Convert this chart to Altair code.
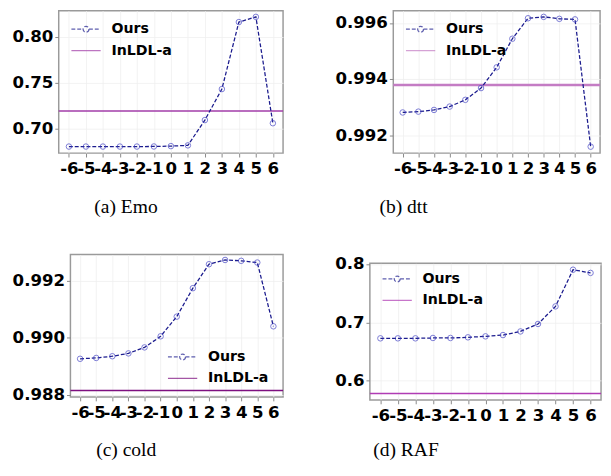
import altair as alt
import pandas as pd

# ---------------- data ----------------
x_vals = [-6, -5, -4, -3, -2, -1, 0, 1, 2, 3, 4, 5, 6]
series_names = ["Ours", "InLDL-a"]

emo_ours = [0.6810, 0.6810, 0.6810, 0.6810, 0.6810, 0.6811, 0.6815, 0.6823,
            0.7097, 0.7433, 0.8159, 0.8215, 0.7063]
emo_inldl = 0.7196

dtt_ours = [0.99281, 0.99284, 0.99290, 0.99302, 0.99326, 0.99368, 0.99442,
            0.99544, 0.99617, 0.99622, 0.99615, 0.99613, 0.99159]
dtt_inldl = 0.99379

cold_ours = [0.98926, 0.98929, 0.98935, 0.98945, 0.98966, 0.99005, 0.99074,
             0.99174, 0.99258, 0.99273, 0.99270, 0.99264, 0.99040]
cold_inldl = 0.98815

raf_ours = [0.6727, 0.6727, 0.6727, 0.6733, 0.6733, 0.6744, 0.6761, 0.6783,
            0.6845, 0.6973, 0.7274, 0.7903, 0.7848]
raf_inldl = 0.5780

emo_ticks = [0.70, 0.75, 0.80]
dtt_ticks = [0.992, 0.994, 0.996]
cold_ticks = [0.988, 0.990, 0.992]
raf_ticks = [0.6, 0.7, 0.8]

captions = ["(a) Emo", "(b) dtt", "(c) cold", "(d) RAF"]

# ---------------- style ----------------
NAVY = "#1c1c8e"
MARK_BLUE = "#4444c4"
OURS_PATH = ("M-1.5,0H-0.3M0.3,0H1.5M0.3,0A0.3,0.3,0,1,1,-0.3,0"
             "A0.3,0.3,0,1,1,0.3,0")
LINE_PATH = "M-1.5,0H1.5"

IND = dict(x="independent", y="independent", color="independent",
           shape="independent", strokeDash="independent")
IND_LEG = dict(color="independent", shape="independent",
               strokeDash="independent")


def panel(ours, inl, ydom, yticks, yfmt, w, h, caption, cap_x, cap_y,
          leg_x, leg_y, inl_color, inl_width):
    df = pd.DataFrame({"x": x_vals, "y": ours})
    xaxis = alt.Axis(values=x_vals, labelOverlap=False,
                     labelExpr="datum.value < 0 ? '-' + abs(datum.value) : '' + datum.value",
                     title=caption, titleX=cap_x, titleY=cap_y,
                     titleAlign="center", titleBaseline="middle",
                     titleAnchor="start")
    yaxis = alt.Axis(values=yticks, format=yfmt, title=None,
                     labelOverlap=False)
    xscale = alt.Scale(domain=[-6.6, 6.6], nice=False, zero=False)
    yscale = alt.Scale(domain=ydom, nice=False, zero=False)
    xenc = alt.X("x:Q", scale=xscale, axis=xaxis)
    yenc = alt.Y("y:Q", scale=yscale, axis=yaxis)

    line = alt.Chart(df).mark_line(
        color=NAVY, strokeDash=[4, 2], strokeWidth=1.3, clip=True
    ).encode(x=xenc, y=yenc)
    pts = alt.Chart(df).mark_point(
        shape="circle", filled=False, color=MARK_BLUE, size=32,
        strokeWidth=1, clip=True
    ).encode(x=xenc, y=yenc)
    rule = alt.Chart(pd.DataFrame({"y": [inl]})).mark_rule(
        color=inl_color, strokeWidth=inl_width
    ).encode(y=yenc)

    leg = alt.Legend(
        title=None, orient="none", legendX=leg_x, legendY=leg_y,
        padding=0, labelFont="DejaVu Sans", labelFontWeight="bold",
        labelFontSize=14.5, labelColor="black", symbolSize=400,
        symbolStrokeWidth=1.3, labelOffset=15, rowPadding=4,
        fillColor="transparent", strokeColor="transparent",
    )
    carrier_df = pd.DataFrame({"series": series_names,
                               "x": [0, 0], "y": [ydom[0], ydom[0]]})
    carrier = alt.Chart(carrier_df).transform_filter("false").mark_point(
        filled=False
    ).encode(
        x=xenc, y=yenc,
        color=alt.Color("series:N",
                        scale=alt.Scale(domain=series_names,
                                        range=[NAVY, inl_color]),
                        legend=leg),
        shape=alt.Shape("series:N",
                        scale=alt.Scale(domain=series_names,
                                        range=[OURS_PATH, LINE_PATH]),
                        legend=leg),
        strokeDash=alt.StrokeDash("series:N",
                                  scale=alt.Scale(domain=series_names,
                                                  range=[[4, 2], [1, 0]]),
                                  legend=leg),
    )
    return alt.layer(rule, line, pts, carrier).properties(width=w, height=h)


def spacer():
    return alt.Chart(pd.DataFrame({"v": [0]})).transform_filter("false").mark_point().encode(
        x=alt.X("v:Q", axis=None), y=alt.Y("v:Q", axis=None)
    ).properties(width=1, height=1,
                 view=alt.ViewBackground(stroke="transparent"))


def cell(p):
    return alt.hconcat(spacer(), p, spacing=0).resolve_scale(**IND).resolve_legend(**IND_LEG)


pa = panel(emo_ours, emo_inldl, [0.6739, 0.8282], emo_ticks, ".2f",
           230, 146, captions[0], 68.5, 55, 17, 8, "#a23ca8", 1.6)
pb = panel(dtt_ours, dtt_inldl, [0.99136, 0.99644], dtt_ticks, ".3f",
           212, 146, captions[1], 10, 55, 17, 8, "#c47cc4", 2.6)
pc = panel(cold_ours, cold_inldl, [0.98792, 0.99292], cold_ticks, ".3f",
           218, 146, captions[2], 56.7, 54, 104, 94, "#7e1080", 1.5)
pd_ = panel(raf_ours, raf_inldl, [0.5672, 0.8012], raf_ticks, ".1f",
            237, 140, captions[3], 36.5, 51, 17, 5, "#b03cb4", 1.5)

col_a = alt.vconcat(cell(pa), cell(pc), spacing=37).resolve_scale(**IND).resolve_legend(**IND_LEG)
col_b = alt.vconcat(cell(pb), cell(pd_), spacing=37).resolve_scale(**IND).resolve_legend(**IND_LEG)

chart = alt.hconcat(col_a, col_b, spacing=47).resolve_scale(**IND).resolve_legend(
    **IND_LEG
).properties(
    padding={"left": 0, "top": -4, "right": 0, "bottom": 0},
    background="white",
).configure_view(
    stroke="#9a9a9a", strokeWidth=1.5
).configure_axis(
    labelFont="DejaVu Sans", labelFontWeight="bold", labelFontSize=17,
    labelColor="black", tickColor="#888888", tickSize=4, tickWidth=1,
    labelPadding=2, gridColor="#eeeeee", gridWidth=0.8, domain=False,
    titleFont="Liberation Serif", titleFontSize=20, titleFontWeight="normal",
    titleColor="black",
).configure_axisX(
    labelPadding=4
)

chart.save("out.html", embed_options={"renderer": "svg", "actions": False})
